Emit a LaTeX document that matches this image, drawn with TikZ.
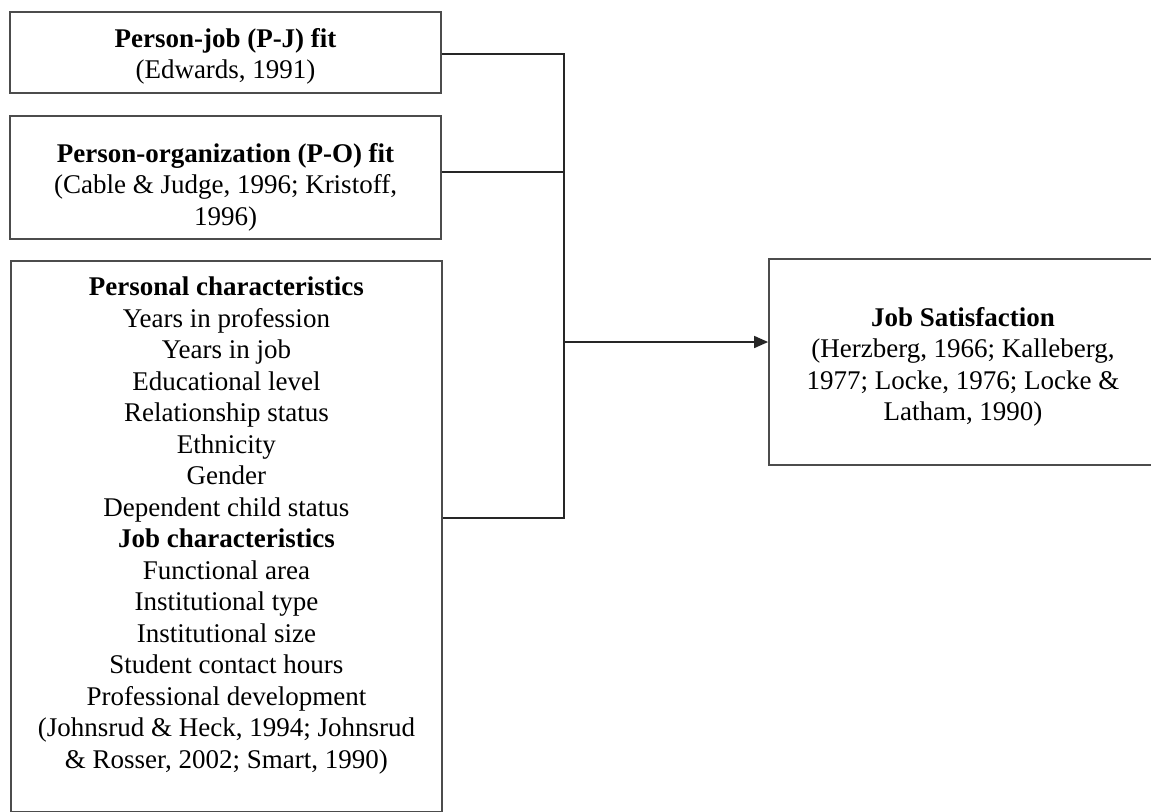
\documentclass[tikz,border=0pt]{standalone}
\usepackage{fontspec}
\setmainfont{Liberation Serif}
\usetikzlibrary{arrows.meta}

\newcommand{\boxfont}{\fontsize{13.5pt}{15.75pt}\selectfont}
\newcommand{\toppad}[1]{\rule{0pt}{#1}}
\tikzset{
    box/.style={draw=black!70, line width=0.9pt, align=center, inner sep=0pt, font=\boxfont},
    link/.style={draw=black!85, line width=0.8pt},
}

\begin{document}
\begin{tikzpicture}[x=0.5pt, y=-0.5pt]
            \useasboundingbox (0, 0) rectangle (1151, 811);

            % predictors
            \node[box, minimum width=215.5pt, minimum height=40.5pt] (pj) at (225.5, 52.5)
                {\toppad{13.5pt}\textbf{Person-job (P-J) fit}\\(Edwards, 1991)};
            \node[box, minimum width=215.5pt, minimum height=61.5pt] (po) at (225.5, 177.5)
                {\toppad{19pt}\textbf{Person-organization (P-O) fit}\\(Cable \& Judge, 1996; Kristoff,\\1996)};
            \node[box, anchor=north west] (pers) at (10, 260)
                {\parbox[t][275.5pt][t]{215.5pt}{\centering\vspace*{8pt}%
                 \textbf{Personal characteristics}\\Years in profession\\Years in job\\Educational level\\
                 Relationship status\\Ethnicity\\Gender\\Dependent child status\\
                 \textbf{Job characteristics}\\Functional area\\Institutional type\\Institutional size\\
                 Student contact hours\\Professional development\\
                 (Johnsrud \& Heck, 1994; Johnsrud\\\& Rosser, 2002; Smart, 1990)}};

            % outcome
            \node[box, minimum width=194pt, minimum height=103pt] (js) at (963, 362)
                {\toppad{14.5pt}\textbf{Job Satisfaction}\\(Herzberg, 1966; Kalleberg,\\1977; Locke, 1976; Locke \&\\Latham, 1990)};

            % connectors
            \coordinate (bustop) at (564, 54);
            \coordinate (busmid) at (564, 172);
            \coordinate (busout) at (564, 342);
            \coordinate (busbot) at (564, 518);
            \draw[link] (pj.east |- bustop) -- (bustop) -- (busbot) -- (pers.east |- busbot);
            \draw[link] (po.east |- busmid) -- (busmid);
            \draw[link, -{Triangle[length=7pt, width=6pt]}] (busout) -- (js.west |- busout);
        \end{tikzpicture}
\end{document}
